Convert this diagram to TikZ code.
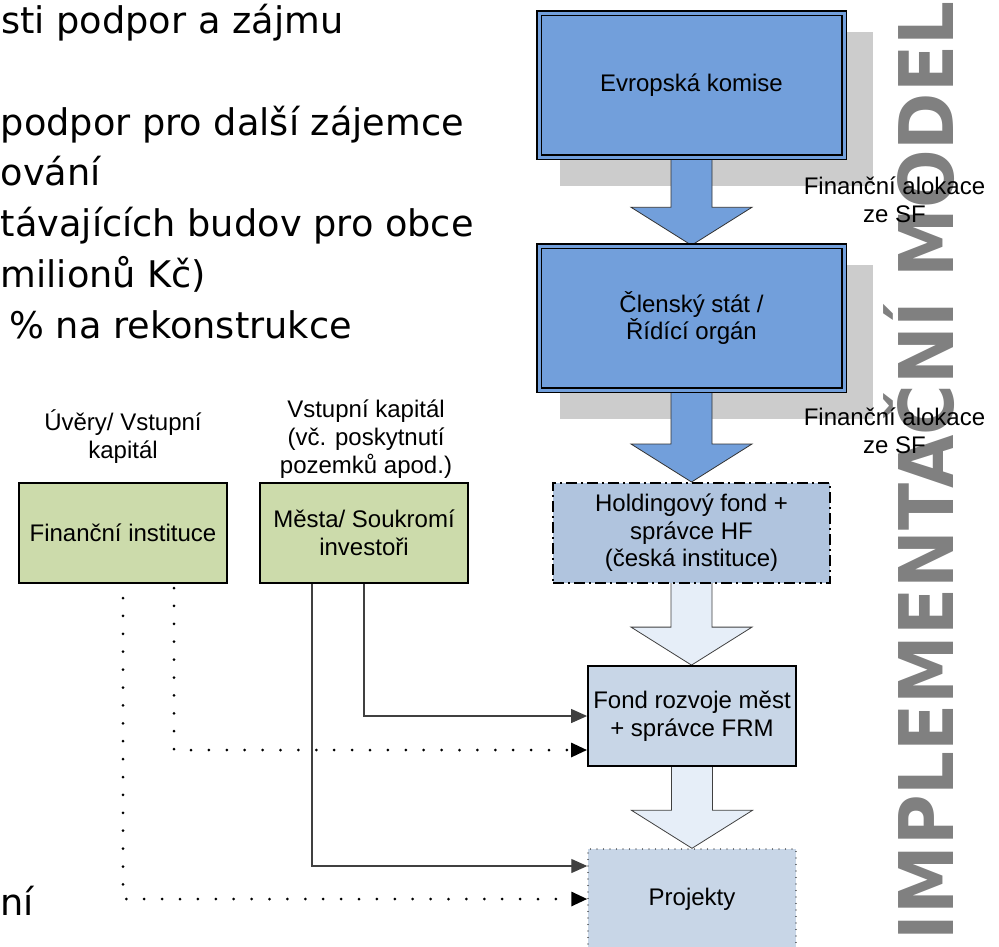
\documentclass[tikz,border=0pt]{standalone}
\usepackage{fontspec}
\setmainfont{Liberation Sans}
\newfontfamily\slidefont{DejaVu Sans}
\usetikzlibrary{arrows.meta,calc}
\definecolor{boxblue}{RGB}{114,159,219}
\definecolor{hfblue}{RGB}{176,196,222}
\definecolor{lightbox}{RGB}{200,214,231}
\definecolor{arrowlight}{RGB}{230,238,248}
\definecolor{boxgreen}{RGB}{204,219,171}
\definecolor{shadowgray}{RGB}{204,204,204}
\definecolor{titlegray}{RGB}{128,128,128}
\newcommand\blockarrow[3]{%
  \path[#1] let \p1=(#2.south), \p2=(#3.north) in
    (\x1-20.5pt,\y1+4pt) -- (\x1-20.5pt,\y2+38pt) -- (\x1-60.5pt,\y2+38pt) --
    (\x1,\y2) -- (\x1+60.5pt,\y2+38pt) -- (\x1+20.5pt,\y2+38pt) --
    (\x1+20.5pt,\y1+4pt) -- cycle;}
\begin{document}
\begin{tikzpicture}[x=1pt,y=-1pt,
  slide/.style={font=\slidefont\fontsize{36.7}{44}\selectfont, inner sep=0pt, anchor=base east},
  slidel/.style={slide, anchor=base west},
  diag/.style={font=\fontsize{24}{27.6}\selectfont, align=center, inner sep=0pt},
  bigbox/.style={diag, draw=black, line width=1.5pt, double=boxblue, double distance=3pt,
    fill=boxblue, minimum width=305pt, minimum height=144pt},
  hfbox/.style={diag, draw=black, line width=2pt, fill=hfblue,
    dash pattern=on 11pt off 4pt on 2pt off 4pt, minimum width=277pt, minimum height=100pt},
  frmbox/.style={diag, draw=black, line width=1.8pt, fill=lightbox,
    minimum width=208pt, minimum height=100pt},
  projbox/.style={diag, draw=black, line width=1.4pt, fill=lightbox, line cap=round,
    dash pattern=on 0pt off 6.5pt, minimum width=208pt, minimum height=100pt},
  greenbox/.style={diag, draw=black, line width=2pt, fill=boxgreen,
    minimum width=208pt, minimum height=100pt},
  bluearrow/.style={fill=boxblue, draw=black!80, line width=0.8pt},
  lightarrow/.style={fill=arrowlight, draw=black!75, line width=0.8pt},
  shadowbox/.style={fill=shadowgray},
  solidconn/.style={draw=black!75, line width=1.2pt, -{Triangle[length=16pt,width=14pt]}},
  dotconn/.style={draw=black, line width=3pt, line cap=round, dash pattern=on 0pt off 17.9pt,
    -{Triangle[length=16pt,width=14pt]}},
  alloc/.style={diag, anchor=base},
  vtitle/.style={font=\slidefont\bfseries\fontsize{75.4}{80}\selectfont, text=titlegray,
    inner sep=0pt, rotate=90, xscale=0.915, anchor=base east}
]
\useasboundingbox (0,0) rectangle (999,946);

% slide text fragments
\node[slidel] (t1) at (1,33) {sti podpor a zájmu};
\node[slidel] (t2) at (0.5,135) {podpor pro další zájemce};
\node[slidel] (t3) at (0.5,185) {ování};
\node[slidel] (t4) at (0.5,236) {távajících budov pro obce};
\node[slidel] (t5) at (0.5,287) {milionů Kč)};
\node[slide] (t6) at (352,338) {\% na rekonstrukce};
\node[slidel] (t8) at (0.5,915) {ní};

% vertical title
\node[vtitle] (title) at (953,1.5) {IMPLEMENTAČNÍ MODEL};

% position holders for the two main boxes (used by shadows and arrows)
\path (691.5,85) node[bigbox, draw=none, fill=none] (ekpos) {};
\path (691.5,318) node[bigbox, draw=none, fill=none] (mspos) {};
\fill[shadowbox] ($(ekpos.north west)+(22,20)$) rectangle ($(ekpos.south east)+(28,28)$);
\fill[shadowbox] ($(mspos.north west)+(22,20)$) rectangle ($(mspos.south east)+(28,28)$);

\path (691.5,533) node[hfbox, draw=none, fill=none] (hf) {};
\path (692,716) node[frmbox, draw=none, fill=none] (frm) {};
\path (692,899) node[projbox, draw=none, fill=none] (proj) {};

\blockarrow{bluearrow}{ekpos}{mspos}
\blockarrow{bluearrow}{mspos}{hf}
\blockarrow{lightarrow}{hf}{frm}
\blockarrow{lightarrow}{frm}{proj}

\node[bigbox] (ek) at (ekpos) {Evropská komise};
\node[bigbox] (ms) at (mspos) {Členský stát /\\Řídící orgán};
\node[hfbox] (hfb) at (hf) {Holdingový fond +\\správce HF\\(česká instituce)};
\node[frmbox] (frmb) at (frm) {Fond rozvoje měst\\+ správce FRM};
\node[projbox] (projb) at (proj) {Projekty};

\node[alloc] (al1) at (894.5,222) {Finanční alokace\\ze SF};
\node[alloc] (al2) at (894.5,453) {Finanční alokace\\ze SF};

% green boxes
\node[greenbox] (fi) at (123,533) {Finanční instituce};
\node[greenbox] (mesta) at (364,533) {Města/ Soukromí\\investoři};
\node[alloc] (lfi) at (123,458) {Úvěry/ Vstupní\\kapitál};
\node[alloc] (lme) at (366,473) {Vstupní kapitál\\(vč. poskytnutí\\pozemků apod.)};

% connectors
\draw[solidconn] (mesta.south) |- (frmb.west);
\draw[solidconn] ([xshift=-52pt]mesta.south) |- ([yshift=33pt]projb.west);
\draw[dotconn] ([xshift=51pt,yshift=-4pt]fi.south) |- ([yshift=-34pt]frmb.west);
\draw[dotconn] ([yshift=-14pt]fi.south) |- (projb.west);
\end{tikzpicture}
\end{document}
